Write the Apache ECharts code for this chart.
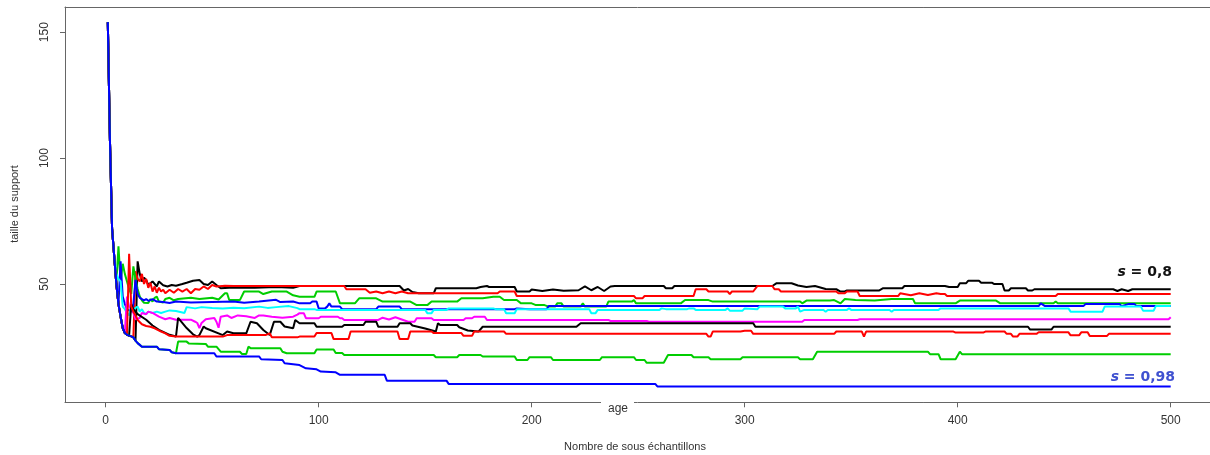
<!DOCTYPE html>
<html><head><meta charset="utf-8">
<script src="https://cdn.jsdelivr.net/npm/echarts@6/dist/echarts.min.js"></script>
<style>html,body{margin:0;padding:0;background:#fff}#c{width:1210px;height:455px}</style>
</head><body><div id="c"></div>
<script>
// ---- data ----
const xTicks = [0, 100, 200, 300, 400, 500];
const yTicks = [50, 100, 150];
const xTitle = 'Nombre de sous échantillons';
const yTitle = 'taille du support';
const innerTitle = 'age';
const labelTop = '{i|s} = 0,8';
const labelBottom = '{i|s} = 0,98';

const run1 = [[1,154],[2,107],[3,72],[4,61],[5,50],[6,42],[7,37],[8,32.5],[9,30.5],[10,29.8],[11,29.5],[12,29.2],[13,28.8],[14,27.5],[15,59],[16,54],[17,51],[18,52.5],[19,51.6],[20,49.6],[22,51],[24,49],[25,51],[27,49.5],[29,49],[31,49.6],[33,49.3],[36,50],[38,50.5],[41,51.3],[43,51.5],[44,51.6],[46,50],[48,49.6],[50,51],[52,49.6],[54,48.3],[60,48.6],[70,48.5],[80,48.8],[88,48.5],[91,49.2],[138,49.2],[140,47.4],[142,48],[144,46.8],[147,46.3],[154,46.3],[155,48.3],[174,48.3],[176,48.8],[179,49.2],[180,48.8],[192,48.8],[193,47.0],[199,47.0],[200,47.8],[205,47.2],[210,47.8],[215,47.3],[222,47.5],[225,49],[228,47.5],[231,48.8],[234,47.2],[237,49],[239,49.2],[262,49.2],[263,48.3],[266,48.3],[267,49.2],[313,49.2],[315,50.3],[322,50.3],[325,49.4],[329,48.8],[333,49.2],[338,48],[343,47.9],[345,47.0],[347,47.0],[348,47.4],[363,47.4],[365,48.3],[374,48.3],[375,49.2],[394,49.2],[396,48.8],[400,48.8],[401,50.3],[404,50.3],[405,51.3],[410,51.3],[411,50.5],[416,50.5],[417,50],[421,50],[422,47.4],[424,47.4],[425,48.3],[432,48.3],[433,47.4],[435,47.4],[436,47.9],[473,47.9],[475,47.2],[477,47.9],[480,47.2],[482,47.9],[500,47.9]];
const run2 = [[1,154],[2,107],[3,72],[4,61],[5,50],[6,42],[7,37],[8,32.5],[9,30.5],[10,29.8],[11,29.5],[12,29.2],[13,28.8],[14,55],[15,52],[16,51],[17,54],[18,50],[19,52],[20,48.5],[21,50.5],[22,47],[23,49],[24,46.5],[25,48.5],[26,47],[27,47.7],[28,46.3],[30,47.7],[32,46.5],[34,48],[36,47],[38,48],[40,46.3],[42,48],[44,47.7],[46,49],[48,48],[50,49.6],[52,49],[56,49.3],[60,49.2],[112,49.2],[113,47.9],[122,47.9],[124,46.5],[127,47],[130,46.3],[133,47],[136,46.3],[139,47],[142,46.3],[184,46.3],[185,47.0],[192,47.0],[193,45.2],[248,45.2],[249,44.3],[252,44.3],[253,45.2],[276,45.2],[277,47.9],[282,47.9],[283,47.0],[292,47.0],[293,46.0],[294,47.0],[304,47.0],[306,49.2],[313,49.2],[314,47.9],[316,47.9],[317,47.0],[343,47.0],[344,46.3],[347,46.3],[348,47.0],[353,47.0],[354,45.2],[372,45.2],[373,46.3],[378,45.5],[382,46.3],[386,45.6],[390,46.3],[392,46.0],[394,46.0],[395,45.2],[446,45.2],[447,46.0],[500,46.0]];
const run3 = [[1,154],[2,107],[3,72],[4,61],[5,50],[6,65],[7,51],[8,58],[9,54],[10,51],[11,48],[12,46],[13,57],[14,52],[15,48],[16,45],[17,43.5],[18,42.5],[20,42.4],[21,44],[22,43],[23,44.5],[24,45],[25,43],[27,42.6],[28,44],[30,44.5],[32,43.5],[34,44],[40,44.5],[44,44],[50,44.5],[53,43.8],[56,46.3],[57,46.3],[58,43.6],[63,43.6],[65,47],[72,47],[74,46],[78,47],[85,47],[88,45.5],[91,44.9],[98,44.9],[99,47.0],[108,47.0],[110,42.3],[117,42.3],[119,44.3],[127,44.3],[130,43.0],[143,43.0],[146,41.6],[151,41.6],[153,43.0],[165,43.0],[167,44.3],[177,44.3],[182,44.9],[185,44.9],[187,43.6],[193,43.6],[195,42.3],[200,42.3],[202,41.6],[206,41.6],[208,41.0],[211,41.0],[212,42.3],[214,42.3],[215,41.0],[223,41.0],[224,42.3],[225,41.0],[235,41.0],[236,43.0],[247,43.0],[248,43.6],[249,42.3],[270,42.3],[272,43.6],[283,43.6],[285,43.0],[326,43.0],[327,42.3],[329,43.4],[340,43.4],[342,43.6],[345,42.3],[347,44.0],[352,43.6],[361,43.4],[369,44.0],[379,44.0],[380,42.3],[399,42.3],[401,43.4],[418,43.4],[420,42.3],[445,42.3],[446,43.0],[447,42.3],[500,42.3]];
const run4 = [[1,154],[2,107],[3,72],[4,61],[5,50],[6,42],[7,59],[8,45],[9,42],[10,40],[11,39.5],[12,39],[13,42],[14,51.6],[15,46],[16,44.5],[17,44],[18,43.5],[19,44],[20,43.3],[22,44],[24,43],[27,42.8],[30,42.4],[33,43],[40,42.6],[50,42.8],[60,43],[65,42.5],[72,43],[80,43.7],[82,42.8],[88,43],[91,42.3],[96,42.3],[97,43.0],[99,43.0],[100,40.3],[103,40.3],[104,41.0],[105,42.3],[106,41.0],[110,41.0],[111,40.0],[127,40.0],[128,41.0],[138,41.0],[139,40.0],[192,40.0],[193,40.3],[199,40.0],[207,40.0],[208,41.2],[438,41.2],[439,42.3],[441,41.2],[459,41.2],[460,42.0],[476,42.0],[477,41.2],[480,42.0],[483,42.0],[484,41.2],[500,41.2]];
const run5 = [[1,154],[2,107],[3,72],[4,61],[5,54],[6,52],[7,51],[8,41],[9,40],[10,38.5],[11,37.5],[12,41],[13,39.5],[14,40.5],[15,41],[16,39],[17,40],[18,38.5],[19,38],[20,39],[22,38.5],[24,39],[26,38.5],[28,39],[30,39.5],[33,39.3],[37,38.5],[38,40.8],[42,40.3],[45,40.8],[50,40.5],[55,40.3],[60,40.6],[65,40.4],[72,41],[76,40.5],[80,40.8],[86,41.2],[90,40.4],[91,40.0],[98,40.0],[99,39.7],[150,39.7],[151,38.4],[153,38.4],[154,39.7],[160,39.7],[161,40.3],[182,40.3],[183,40.0],[187,40.0],[188,38.4],[192,38.4],[193,40.0],[227,40.0],[228,38.4],[230,38.4],[231,39.7],[260,39.7],[261,40.3],[263,40.0],[273,40.0],[274,40.3],[276,40.3],[277,39.7],[291,39.7],[292,40.3],[293,39.4],[299,39.4],[300,40.3],[306,40.0],[307,41.0],[318,41.0],[319,40.3],[324,40.3],[325,41.0],[326,39.0],[328,39.7],[337,39.7],[338,39.0],[339,39.7],[348,39.7],[349,40.3],[350,39.7],[368,39.7],[369,39.0],[370,39.7],[391,39.7],[392,40.3],[452,40.3],[453,39.0],[468,39.0],[469,41.0],[486,41.0],[487,39.4],[492,39.4],[493,41.2],[500,41.2]];
const run6 = [[1,154],[2,107],[3,72],[4,61],[5,50],[6,42],[7,37],[8,32.5],[9,30.5],[10,45],[11,41],[12,40],[13,38.5],[14,36],[16,36.5],[17,38.5],[19,38],[20,39],[22,38.5],[25,37],[28,36],[30,36.5],[33,35.8],[40,35.8],[42,35],[43,34.5],[44,32.5],[45,34.5],[47,36],[51,36.5],[52,35],[53,32.6],[54,37],[57,37.5],[59,36.5],[62,37.5],[66,37.2],[70,36.5],[72,37.5],[74,37.5],[78,37],[83,36.6],[88,37],[90,37.8],[91,38.4],[93,38.4],[94,36.4],[100,36.4],[101,37.0],[109,37.0],[110,36.4],[111,36.4],[112,35.7],[128,35.7],[130,36.6],[133,35.9],[136,36.8],[139,35.9],[142,35.0],[145,35.0],[146,36.4],[153,36.4],[154,35.7],[168,35.7],[169,36.4],[172,36.4],[173,37.0],[178,37.0],[179,35.7],[236,35.7],[237,35.3],[254,35.3],[255,35.0],[327,35.0],[328,35.7],[353,35.7],[354,36.0],[499,36.0],[500,36.8]];
const run7 = [[1,154],[2,107],[3,72],[4,61],[5,50],[6,42],[7,37],[8,32.5],[9,30.5],[10,29.8],[11,29.5],[12,42],[13,40],[15,38],[19,35.8],[22,33.5],[25,31.8],[30,29.8],[33,29.1],[34,36.5],[38,32.5],[41,30],[43,29.1],[44,29.7],[46,33.1],[47,32.4],[55,29.7],[57,31.1],[60,30.4],[66,30.4],[68,35],[71,34.4],[74,31.7],[77,29.7],[79,35],[82,35],[84,33.1],[88,32.4],[89,35.7],[91,34.4],[98,34.4],[99,33.0],[111,33.0],[112,33.7],[121,33.7],[122,35.0],[127,35.0],[128,33.0],[137,33.0],[138,34.4],[143,34.4],[144,33.5],[150,32.3],[155,31.1],[156,34.4],[157,33.7],[165,33.7],[166,32.8],[170,31.5],[175,31.1],[177,33.0],[221,33.0],[223,34.4],[304,34.4],[305,33.0],[433,33.0],[434,31.9],[444,31.9],[445,33.0],[500,33.0]];
const run8 = [[1,154],[2,107],[3,72],[4,61],[5,50],[6,42],[7,37],[8,32.5],[9,30.5],[10,29.8],[11,62],[12,41],[13,39],[14,37.5],[15,35.7],[17,34],[19,33.3],[21,33],[23,32.4],[26,31.1],[28,30.4],[30,29.4],[33,29.1],[55,29.1],[57,29.7],[75,29.7],[77,30.4],[78,28.8],[90,28.8],[91,29.1],[98,29.1],[99,30.5],[106,30.5],[107,28.1],[114,28.1],[115,31.1],[137,31.1],[138,28.1],[142,28.1],[143,31.1],[153,31.1],[154,30.5],[167,30.5],[168,29.4],[172,29.4],[173,31.1],[187,31.1],[188,30.2],[282,30.2],[283,29.1],[284,29.1],[285,31.1],[298,31.1],[300,31.4],[303,31.4],[304,30.2],[342,30.2],[343,31.1],[355,31.1],[356,29.1],[357,31.1],[398,31.1],[399,30.7],[412,30.7],[413,31.1],[422,31.1],[423,30.2],[425,30.2],[426,29.1],[428,29.1],[429,30.2],[437,30.2],[438,30.8],[452,30.8],[453,29.6],[457,29.6],[458,30.8],[461,30.8],[462,29.3],[470,29.3],[471,30.2],[500,30.2]];
const run9 = [[1,154],[2,107],[3,72],[4,61],[5,50],[6,42],[7,37],[8,32.5],[9,30.5],[10,29.8],[11,29.5],[12,29.2],[13,28.8],[14,27.5],[15,26.5],[16,25.8],[17,25.1],[24,25.1],[25,24.1],[30,23.8],[31,22.9],[33,22.5],[34,27.1],[38,27.1],[39,26.4],[47,26.2],[48,25.1],[52,25.1],[54,23.1],[63,23.1],[64,22.2],[66,22.2],[67,25.1],[68,24.5],[82,24.5],[83,23.1],[85,22.5],[98,22.5],[99,24.0],[107,24.0],[108,22.6],[111,22.6],[112,21.8],[154,21.8],[155,20.9],[165,20.9],[166,21.8],[176,21.8],[177,21.2],[192,21.2],[193,19.8],[198,19.8],[199,20.9],[209,20.9],[210,19.8],[232,19.8],[233,20.9],[248,20.9],[249,19.8],[253,19.8],[254,18.7],[262,18.7],[264,21.8],[275,21.8],[276,20.9],[283,20.9],[284,20.1],[298,20.1],[299,20.9],[325,20.9],[326,20.1],[332,20.1],[334,23.1],[386,23.1],[387,22.1],[391,22.1],[392,20.1],[399,20.1],[401,23.1],[402,22.1],[500,22.1]];
const run10 = [[1,154],[2,107],[3,72],[4,61],[5,50],[6,42],[7,37],[8,32.5],[9,30.5],[10,29.8],[11,29.5],[12,29.2],[13,28.8],[14,27.5],[15,26.5],[16,25.8],[17,25.1],[24,25.1],[25,24.1],[30,23.8],[31,22.9],[33,22.5],[51,22.5],[52,21.2],[72,21.2],[73,20.1],[83,19.8],[84,18.5],[91,17.8],[94,16.5],[99,16.1],[101,15.2],[108,14.9],[110,13.9],[131,13.9],[132,11.6],[160,11.6],[161,10.3],[258,10.3],[259,9.3],[500,9.3]];

const runs = [run1, run2, run3, run4, run5, run6, run7, run8, run9, run10];
const runColors = ['#000000','#FF0000','#00CD00','#0000FF','#00FFFF','#FF00FF','#000000','#FF0000','#00CD00','#0000FF'];

// ---- chart ----
const chart = echarts.init(document.getElementById('c'), null, {renderer: 'canvas'});
const FONT = '"Liberation Sans", Arial, sans-serif';
const BADGE = '"DejaVu Sans", Verdana, sans-serif';
const FRAME = '#666';

chart.setOption({
  animation: false,
  backgroundColor: '#ffffff',
  grid: {left: 65, top: 7, right: 0, height: 395.3, show: false},
  xAxis: [{
    type: 'value', min: -19.1, max: 518.45, position: 'bottom',
    splitLine: {show: false},
    axisLine: {show: true, onZero: false, lineStyle: {color: FRAME, width: 1}},
    axisTick: {show: true, customValues: xTicks, length: 5, lineStyle: {color: FRAME}},
    axisLabel: {show: true, customValues: xTicks, margin: 12, fontSize: 12, fontFamily: FONT, color: '#333'}
  }, {
    type: 'value', min: -19.1, max: 518.45, position: 'top',
    splitLine: {show: false},
    axisLine: {show: true, onZero: false, lineStyle: {color: FRAME, width: 1}},
    axisTick: {show: false}, axisLabel: {show: false}
  }],
  yAxis: {
    type: 'value', min: 3.0, max: 160.0,
    splitLine: {show: false},
    axisLine: {show: true, onZero: false, lineStyle: {color: FRAME, width: 1}},
    axisTick: {show: true, customValues: yTicks, length: 5, lineStyle: {color: FRAME}},
    axisLabel: {show: true, customValues: yTicks, rotate: 90, margin: 14, fontSize: 12, fontFamily: FONT, color: '#333'}
  },
  series: runs.map((d, i) => ({
    type: 'line', data: d, showSymbol: false, symbol: 'none',
    lineStyle: {color: runColors[i], width: 2},
    itemStyle: {color: runColors[i]},
    z: 2 + i, silent: true
  })),
  graphic: [
    {type: 'rect', z: 100, shape: {x: 601, y: 398, width: 33, height: 10}, style: {fill: '#ffffff'}},
    {type: 'text', z: 101, x: 618, y: 409, style: {text: innerTitle, textAlign: 'center', textVerticalAlign: 'middle', font: '12px ' + FONT, fill: '#333'}},
    {type: 'text', z: 101, x: 635, y: 447, style: {text: xTitle, textAlign: 'center', textVerticalAlign: 'middle', font: '11px ' + FONT, fill: '#333'}},
    {type: 'text', z: 101, x: 15, y: 204, rotation: Math.PI / 2, style: {text: yTitle, textAlign: 'center', textVerticalAlign: 'middle', font: '11px ' + FONT, fill: '#333'}},
    {type: 'text', z: 101, x: 1172, y: 272, style: {text: labelTop, textAlign: 'right', textVerticalAlign: 'middle', font: 'bold 14px ' + BADGE, fill: '#111',
      rich: {i: {fontStyle: 'italic', fontWeight: 'bold', fontSize: 14, fontFamily: BADGE, fill: '#111'}}}},
    {type: 'text', z: 101, x: 1175, y: 377, style: {text: labelBottom, textAlign: 'right', textVerticalAlign: 'middle', font: 'bold 14px ' + BADGE, fill: '#3F51D0',
      rich: {i: {fontStyle: 'italic', fontWeight: 'bold', fontSize: 14, fontFamily: BADGE, fill: '#3F51D0'}}}}
  ]
});
</script>
</body></html>
